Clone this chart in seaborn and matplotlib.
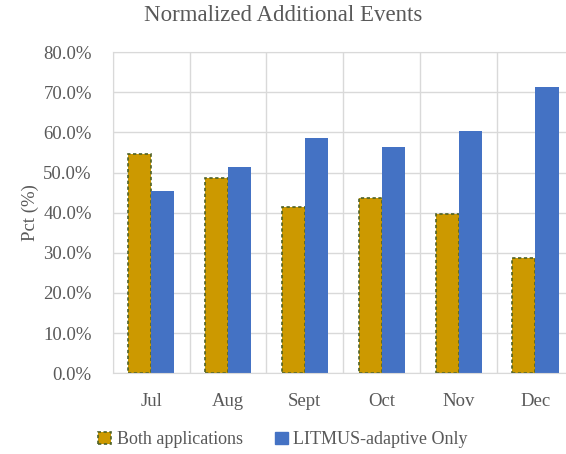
import numpy as np
import pandas as pd
import matplotlib
matplotlib.use("Agg")
import matplotlib.pyplot as plt
import matplotlib.ticker as mticker
from matplotlib.patches import Patch
import seaborn as sns

months = ["Jul", "Aug", "Sept", "Oct", "Nov", "Dec"]
both_apps = [54.6, 48.6, 41.4, 43.7, 39.6, 28.6]
litmus_only = [45.3, 51.3, 58.5, 56.3, 60.3, 71.4]
series_names = ["Both applications", "LITMUS-adaptive Only"]

GOLD = "#CC9900"
BLUE = "#4472C4"
EDGE = "#4F6228"
TEXT = "#595959"
GRID = "#D9D9D9"

df = pd.DataFrame({
    "month": months * 2,
    "pct": both_apps + litmus_only,
    "series": [series_names[0]] * len(months) + [series_names[1]] * len(months),
})

sns.set_style("white")
plt.rcParams["font.family"] = ["Liberation Serif", "DejaVu Serif"]
plt.rcParams["text.color"] = TEXT

fig = plt.figure(figsize=(5.66, 4.54), dpi=100)
ax = fig.add_axes([0.199, 0.178, 0.815, 0.707])

sns.barplot(data=df, x="month", y="pct", hue="series", order=months,
            hue_order=series_names, palette=[GOLD, BLUE], width=0.6,
            saturation=1, legend=False, ax=ax)

# dashed outline on the "both" bars, as in the original
for p in ax.containers[0]:
    p.set_edgecolor(EDGE)
    p.set_linestyle((0, (2, 1.5)))
    p.set_linewidth(1.2)
for p in ax.containers[1]:
    p.set_edgecolor(BLUE)
    p.set_linewidth(0)

ax.set_ylim(0, 80)
ax.set_xlim(-0.5, len(months) - 0.5)
ax.yaxis.set_major_locator(mticker.MultipleLocator(10))
ax.yaxis.set_major_formatter(mticker.FuncFormatter(lambda v, _: f"{v:.1f}%"))
ax.set_xticks(np.arange(-0.5, len(months), 1.0), minor=True)
ax.grid(axis="y", color=GRID, linewidth=1)
ax.grid(axis="x", which="minor", color=GRID, linewidth=1)
ax.set_axisbelow(True)
ax.tick_params(axis="both", which="both", length=0, colors=TEXT, labelsize=13.5)
ax.tick_params(axis="y", pad=15)
ax.tick_params(axis="x", pad=14)
for s in ax.spines.values():
    s.set_color(GRID)

ax.set_xlabel("")
ax.set_ylabel("Pct (%)", fontsize=13.5, color=TEXT, labelpad=3)
fig.text(0.5, 0.965, "Normalized Additional Events", ha="center", va="center",
         fontsize=16.5, color=TEXT)

handles = [Patch(facecolor=GOLD, edgecolor=EDGE, linestyle=(0, (2, 1.5)), linewidth=1.2),
           Patch(facecolor=BLUE, edgecolor=BLUE)]
fig.legend(handles, series_names, loc="center", bbox_to_anchor=(0.5, 0.031), ncol=2,
           frameon=False, fontsize=13, handlelength=0.7, handleheight=0.7,
           handletextpad=0.3, columnspacing=1.8)

fig.savefig("out.png", dpi=100)
